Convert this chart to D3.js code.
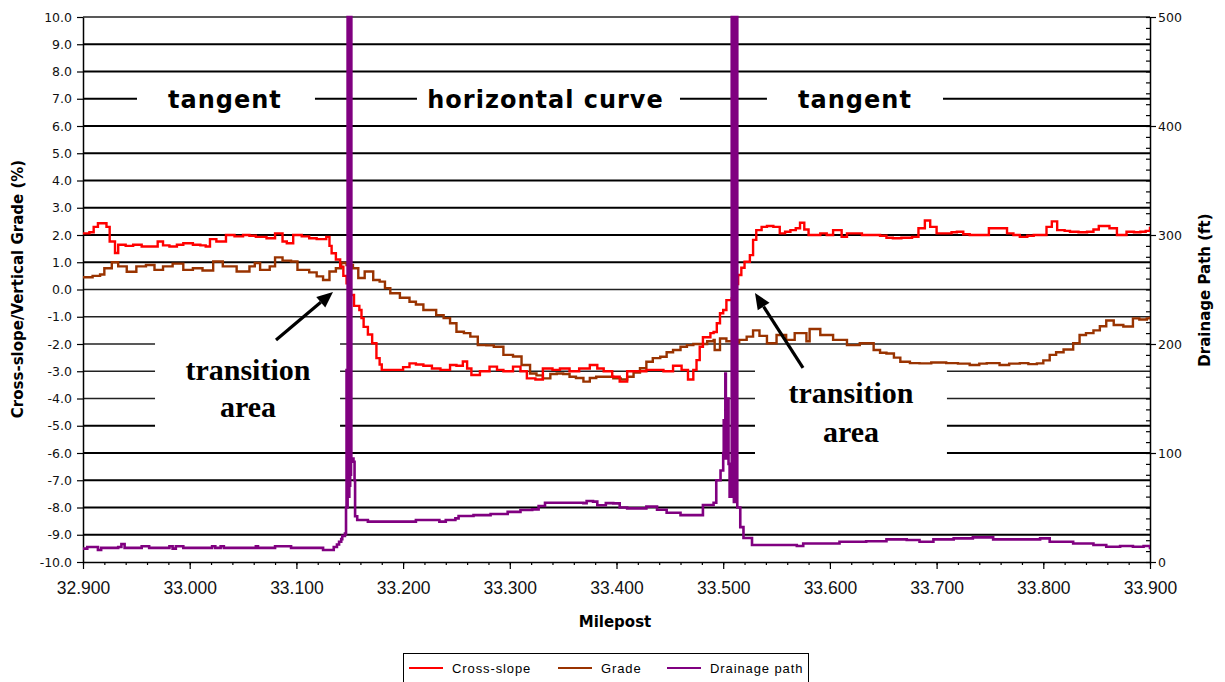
<!DOCTYPE html>
<html><head><meta charset="utf-8">
<script src="https://cdn.jsdelivr.net/npm/d3@7"></script>
<style>body{margin:0;background:#fff;} svg{display:block;}</style>
</head><body><svg id="c" width="1225" height="682"></svg>
<script>
// ---------------- DATA ----------------
const crossSlope = [[32.900,2.06],[32.906,2.10],[32.910,2.3],[32.914,2.43],[32.918,2.43],[32.922,2.30],[32.925,1.76],[32.930,1.34],[32.933,1.64],[32.940,1.6],[32.947,1.64],[32.955,1.58],[32.962,1.58],[32.970,1.76],[32.975,1.62],[32.981,1.58],[32.988,1.64],[32.994,1.70],[33.003,1.64],[33.010,1.62],[33.015,1.58],[33.019,1.85],[33.025,1.76],[33.034,2.0],[33.042,1.95],[33.050,2.0],[33.056,1.97],[33.062,1.93],[33.072,1.88],[33.080,2.06],[33.087,1.76],[33.091,1.70],[33.097,2.0],[33.105,1.95],[33.112,1.88],[33.119,1.85],[33.128,1.93],[33.131,1.6],[33.133,1.33],[33.137,1.1],[33.141,0.84],[33.144,0.5],[33.147,0.23],[33.150,-0.2],[33.154,-0.6],[33.159,-0.75],[33.161,-1.05],[33.163,-1.37],[33.167,-1.65],[33.171,-1.97],[33.175,-2.52],[33.178,-2.75],[33.180,-2.95],[33.194,-2.95],[33.200,-2.85],[33.206,-2.71],[33.212,-2.75],[33.219,-2.80],[33.227,-2.9],[33.235,-2.95],[33.244,-2.77],[33.250,-2.8],[33.256,-2.64],[33.260,-2.9],[33.264,-3.14],[33.272,-3.0],[33.281,-2.83],[33.288,-2.95],[33.294,-3.0],[33.303,-2.83],[33.310,-3.0],[33.316,-3.26],[33.324,-3.30],[33.331,-2.90],[33.340,-2.95],[33.347,-2.90],[33.356,-3.0],[33.365,-2.9],[33.375,-2.77],[33.382,-2.9],[33.388,-3.0],[33.396,-3.2],[33.403,-3.38],[33.410,-3.0],[33.420,-3.0],[33.428,-2.95],[33.436,-2.95],[33.444,-3.0],[33.453,-2.80],[33.461,-2.95],[33.467,-3.30],[33.472,-2.95],[33.475,-2.59],[33.478,-2.1],[33.481,-1.75],[33.488,-1.6],[33.491,-1.56],[33.494,-1.24],[33.497,-0.87],[33.500,-0.75],[33.503,-0.39],[33.508,-0.33],[33.511,0.2],[33.514,0.53],[33.517,0.8],[33.520,1.02],[33.525,1.26],[33.528,1.82],[33.531,2.18],[33.536,2.3],[33.541,2.33],[33.547,2.30],[33.553,2.06],[33.558,2.12],[33.563,2.18],[33.568,2.25],[33.572,2.45],[33.576,2.2],[33.580,2.0],[33.591,2.06],[33.597,2.0],[33.603,2.18],[33.611,1.93],[33.616,2.06],[33.622,2.06],[33.630,2.0],[33.640,2.0],[33.647,1.97],[33.653,1.9],[33.659,1.88],[33.667,1.9],[33.677,1.93],[33.683,2.25],[33.689,2.53],[33.694,2.3],[33.700,2.06],[33.708,2.06],[33.714,2.1],[33.719,2.12],[33.725,2.03],[33.731,2.0],[33.738,2.0],[33.744,2.0],[33.749,2.25],[33.760,2.25],[33.766,2.06],[33.772,2.0],[33.778,1.93],[33.785,1.97],[33.791,2.0],[33.800,2.0],[33.803,2.3],[33.808,2.5],[33.813,2.18],[33.820,2.15],[33.825,2.12],[33.833,2.1],[33.841,2.12],[33.847,2.2],[33.852,2.33],[33.862,2.25],[33.869,2.0],[33.878,2.12],[33.885,2.1],[33.891,2.12],[33.896,2.15],[33.900,2.30]];

const grade = [[32.900,0.45],[32.909,0.50],[32.916,0.55],[32.920,0.78],[32.927,1.0],[32.933,0.85],[32.941,0.65],[32.950,0.85],[32.959,0.90],[32.967,0.72],[32.975,0.85],[32.984,0.95],[32.994,0.72],[33.003,0.78],[33.012,0.70],[33.022,1.03],[33.031,0.85],[33.044,0.66],[33.056,0.85],[33.061,0.97],[33.066,0.72],[33.075,0.85],[33.080,1.18],[33.087,1.06],[33.095,1.03],[33.101,0.72],[33.112,0.63],[33.119,0.48],[33.125,0.35],[33.131,0.66],[33.137,0.78],[33.142,0.97],[33.147,0.90],[33.153,0.78],[33.158,0.42],[33.164,0.66],[33.172,0.35],[33.178,0.29],[33.183,0.05],[33.188,-0.14],[33.197,-0.3],[33.206,-0.45],[33.212,-0.55],[33.219,-0.75],[33.231,-0.94],[33.238,-1.05],[33.244,-1.24],[33.250,-1.55],[33.257,-1.6],[33.263,-1.73],[33.270,-2.04],[33.278,-2.05],[33.285,-2.10],[33.294,-2.40],[33.303,-2.46],[33.311,-2.77],[33.319,-3.08],[33.325,-3.15],[33.331,-3.26],[33.338,-3.1],[33.344,-3.08],[33.350,-3.1],[33.356,-3.20],[33.362,-3.25],[33.369,-3.38],[33.375,-3.25],[33.381,-3.20],[33.390,-3.2],[33.397,-3.26],[33.404,-3.3],[33.410,-3.20],[33.416,-3.05],[33.422,-2.89],[33.428,-2.65],[33.434,-2.52],[33.441,-2.47],[33.447,-2.3],[33.453,-2.22],[33.460,-2.10],[33.466,-2.04],[33.472,-2.0],[33.478,-2.0],[33.485,-1.9],[33.491,-1.85],[33.492,-2.22],[33.497,-1.80],[33.503,-1.9],[33.509,-1.95],[33.515,-1.85],[33.522,-1.73],[33.528,-1.50],[33.534,-1.70],[33.541,-1.97],[33.550,-1.67],[33.559,-1.85],[33.567,-1.60],[33.578,-1.90],[33.581,-1.45],[33.591,-1.67],[33.603,-1.85],[33.616,-2.04],[33.628,-1.97],[33.641,-2.22],[33.647,-2.32],[33.653,-2.35],[33.660,-2.5],[33.666,-2.65],[33.675,-2.7],[33.684,-2.71],[33.695,-2.68],[33.709,-2.70],[33.720,-2.72],[33.731,-2.77],[33.740,-2.72],[33.747,-2.70],[33.759,-2.77],[33.768,-2.72],[33.778,-2.70],[33.786,-2.74],[33.794,-2.71],[33.800,-2.6],[33.806,-2.40],[33.812,-2.3],[33.819,-2.20],[33.828,-1.97],[33.834,-1.67],[33.840,-1.6],[33.847,-1.50],[33.853,-1.35],[33.859,-1.14],[33.866,-1.30],[33.875,-1.36],[33.884,-1.06],[33.890,-1.1],[33.897,-1.06],[33.900,-1.0]];

const drainage = [[32.900,12.3],[32.904,13.7],[32.914,11],[32.917,13],[32.933,13.7],[32.936,16.5],[32.939,13],[32.955,14.5],[32.962,13],[32.981,14.5],[32.984,12.3],[32.987,14.5],[32.994,13],[33.021,14.5],[33.024,13],[33.029,14.5],[33.032,13],[33.061,13],[33.062,14.5],[33.064,13],[33.080,14.5],[33.095,13],[33.124,13],[33.125,11],[33.130,11],[33.135,13.7],[33.138,16],[33.140,18.6],[33.142,21],[33.143,24],[33.1455,26],[33.1465,50],[33.1470,176],[33.1475,50],[33.1480,500],[33.1484,60],[33.1488,500],[33.1492,60],[33.1496,500],[33.1500,70],[33.1504,500],[33.1508,80],[33.1512,500],[33.1515,95],[33.1535,92],[33.1545,75],[33.155,42],[33.157,38.5],[33.167,37],[33.208,37],[33.212,38.5],[33.231,38.5],[33.234,37],[33.240,38.5],[33.249,40],[33.252,42.2],[33.266,43],[33.282,44],[33.298,46],[33.310,47.7],[33.321,48.3],[33.327,51.4],[33.333,54.4],[33.350,54.4],[33.369,54],[33.372,56],[33.378,55.4],[33.382,52],[33.390,54],[33.397,53.8],[33.403,50],[33.410,49.2],[33.428,50.8],[33.438,48],[33.447,45.2],[33.460,43],[33.477,43],[33.481,52.3],[33.491,54.4],[33.4935,75],[33.4975,84],[33.500,100],[33.5005,130],[33.501,95],[33.502,173],[33.5025,100],[33.503,140],[33.5035,95],[33.504,150],[33.505,90],[33.506,60],[33.5080,500],[33.5084,60],[33.5088,500],[33.5092,60],[33.5096,500],[33.5100,55],[33.5104,500],[33.5108,55],[33.5112,500],[33.5116,55],[33.5120,500],[33.5124,55],[33.5128,500],[33.5132,50],[33.514,50],[33.516,32],[33.519,22],[33.527,15.6],[33.541,15.6],[33.569,14.7],[33.575,17],[33.603,17],[33.609,18.6],[33.634,19],[33.653,20.8],[33.672,20.2],[33.684,18.6],[33.697,20.8],[33.716,21.7],[33.734,22.6],[33.753,20.8],[33.778,20.8],[33.797,21.7],[33.806,18.6],[33.828,17],[33.847,15.6],[33.859,14],[33.872,14.7],[33.884,14],[33.894,14.7],[33.900,11.6]];

const leftTickValues = [-10,-9,-8,-7,-6,-5,-4,-3,-2,-1,0,1,2,3,4,5,6,7,8,9,10];
const bottomTickValues = [32.9,33.0,33.1,33.2,33.3,33.4,33.5,33.6,33.7,33.8,33.9];
const rightTickValues = [0,100,200,300,400,500];
const seriesNames = ["Cross-slope","Grade","Drainage path"];
const sectionLabels = ["tangent","horizontal curve","tangent"];
const sectionCenters = [33.033, 33.3335, 33.6235];
const sectionGaps = [[32.9506,33.1174],[33.213,33.4595],[33.541,33.706]];
const transitionText = ["transition","area"];

// ---------------- LAYOUT ----------------
const svg = d3.select("#c");
const L = 83, R = 1150, T = 17, B = 562;
const x = d3.scaleLinear().domain([32.9, 33.9]).range([L, R]);
const y = d3.scaleLinear().domain([-10, 10]).range([B, T]);
const y2 = d3.scaleLinear().domain([0, 500]).range([B, T]);
const colors = ["#ff0000", "#993300", "#800080"];

svg.append("defs").append("clipPath").attr("id","clip")
  .append("rect").attr("x",L).attr("y",T-2).attr("width",R-L).attr("height",B-T+2);

// gridlines
const thin = new Set([10,0,-1,-2,-3,-4]);
svg.append("g").selectAll("line").data(leftTickValues.filter(v=>v>-10)).join("line")
  .attr("x1",L).attr("x2",R).attr("y1",d=>y(d)).attr("y2",d=>y(d))
  .attr("stroke",d=>thin.has(d)?"#222":"#000")
  .attr("stroke-width",d=>thin.has(d)?1.3:2.2);

// axes
const fmt1 = d => d.toFixed(1);
const gl = svg.append("g").attr("transform",`translate(${L},0)`)
  .call(d3.axisLeft(y).tickValues(leftTickValues).tickFormat(fmt1).tickSize(6).tickSizeOuter(0).tickPadding(5));
gl.selectAll("text").attr("font-family","DejaVu Sans").attr("font-size","12.5px").attr("fill","#111");

const gb = svg.append("g").attr("transform",`translate(0,${B})`)
  .call(d3.axisBottom(x).tickValues(bottomTickValues).tickFormat(d=>d.toFixed(3)).tickSize(7).tickSizeOuter(0).tickPadding(13));
gb.selectAll("text").attr("font-family","Liberation Sans").attr("font-size","17.5px").attr("fill","#111");
const minorX = d3.range(0,51).map(i=>32.9+i*0.02);
svg.append("g").attr("transform",`translate(0,${B})`)
  .call(d3.axisBottom(x).tickValues(minorX).tickFormat("").tickSize(3).tickSizeOuter(0))
  .select(".domain").remove();

const gr = svg.append("g").attr("transform",`translate(${R},0)`)
  .call(d3.axisRight(y2).tickValues(rightTickValues).tickSize(6).tickSizeOuter(0).tickPadding(2));
gr.selectAll("text").attr("font-family","DejaVu Sans").attr("font-size","12.5px").attr("fill","#111");
const minorY2 = d3.range(0,51).map(i=>i*10);
svg.append("g").attr("transform",`translate(${R},0)`)
  .call(d3.axisLeft(y2).tickValues(minorY2).tickFormat("").tickSize(4).tickSizeOuter(0))
  .select(".domain").remove();

svg.selectAll(".domain").attr("stroke","#000").attr("stroke-width",1.5);
svg.selectAll(".tick line").attr("stroke","#000").attr("stroke-width",1.2);

// series
const plot = svg.append("g").attr("clip-path","url(#clip)");
const stepLine = sc => d3.line().curve(d3.curveStepAfter).x(d=>x(d[0])).y(d=>sc(d[1]));
plot.append("path").datum(grade).attr("fill","none").attr("stroke",colors[1]).attr("stroke-width",2.4)
  .attr("d", stepLine(y));
plot.append("path").datum(crossSlope).attr("fill","none").attr("stroke",colors[0]).attr("stroke-width",2.4)
  .attr("d", stepLine(y));
plot.append("path").datum(drainage).attr("fill","none").attr("stroke",colors[2]).attr("stroke-width",2.6)
  .attr("d", stepLine(y2));

// section labels (tangent / horizontal curve / tangent)
sectionGaps.forEach(g => {
  svg.append("rect").attr("x",x(g[0])).attr("y",y(7)-8).attr("width",x(g[1])-x(g[0])).attr("height",16).attr("fill","#fff");
});
sectionLabels.forEach((t,i) => {
  svg.append("text").attr("x",x(sectionCenters[i])).attr("y",y(7)+9.5).attr("text-anchor","middle")
    .attr("font-family","DejaVu Sans").attr("font-weight","bold").attr("font-size","24px")
    .attr("letter-spacing","1px").attr("fill","#000").text(t);
});

// transition areas
const transitions = [
  {box:[32.9675,33.1409,-1.49,-5.52], cx:33.0546, base:[-3.32,-4.68], tip:[33.1343,-0.09], tail:[33.0809,-1.85]},
  {box:[33.5298,33.7097,-2.77,-6.44], cx:33.6198, base:[-4.17,-5.60], tip:[33.5298,-0.13], tail:[33.5748,-2.88]}
];
transitions.forEach(a => {
  svg.append("rect").attr("x",x(a.box[0])).attr("y",y(a.box[2])).attr("width",x(a.box[1])-x(a.box[0]))
    .attr("height",y(a.box[3])-y(a.box[2])).attr("fill","#fff");
  transitionText.forEach((t,i)=>{
    svg.append("text").attr("x",x(a.cx)).attr("y",y(a.base[i])).attr("text-anchor","middle")
      .attr("font-family","Liberation Serif").attr("font-weight","bold").attr("font-size","30px")
      .attr("fill","#000").text(t);
  });
  const x1=x(a.tail[0]), y1=y(a.tail[1]), x2=x(a.tip[0]), y2p=y(a.tip[1]);
  const ang=Math.atan2(y2p-y1,x2-x1), hl=16, hw=7;
  const bx=x2-hl*Math.cos(ang), by=y2p-hl*Math.sin(ang);
  svg.append("line").attr("x1",x1).attr("y1",y1).attr("x2",bx).attr("y2",by).attr("stroke","#000").attr("stroke-width",3.2);
  svg.append("path").attr("d",`M${x2},${y2p}L${bx+hw*Math.sin(ang)},${by-hw*Math.cos(ang)}L${bx-hw*Math.sin(ang)},${by+hw*Math.cos(ang)}Z`).attr("fill","#000");
});

// axis titles
svg.append("text").attr("x",615).attr("y",627).attr("text-anchor","middle")
  .attr("font-family","DejaVu Sans").attr("font-weight","bold").attr("font-size","15px").attr("fill","#000").text("Milepost");
svg.append("text").attr("transform","translate(23,289) rotate(-90)").attr("text-anchor","middle")
  .attr("font-family","DejaVu Sans").attr("font-weight","bold").attr("font-size","15px").attr("fill","#000")
  .text("Cross-slope/Vertical Grade (%)");
svg.append("text").attr("transform","translate(1210,290) rotate(-90)").attr("text-anchor","middle")
  .attr("font-family","DejaVu Sans").attr("font-weight","bold").attr("font-size","15px").attr("fill","#000")
  .text("Drainage Path (ft)");

// legend
svg.append("rect").attr("x",403.5).attr("y",653.5).attr("width",405).attr("height",40).attr("fill","#fff").attr("stroke","#000").attr("stroke-width",1);
const legX = [409, 558, 667];
seriesNames.forEach((n,i)=>{
  svg.append("line").attr("x1",legX[i]).attr("x2",legX[i]+34).attr("y1",668).attr("y2",668).attr("stroke",colors[i]).attr("stroke-width",2.2);
  svg.append("text").attr("x",legX[i]+43).attr("y",672.5).attr("font-family","Liberation Sans").attr("font-size","13px")
    .attr("letter-spacing","0.9px").attr("fill","#000").text(n);
});
</script></body></html>
